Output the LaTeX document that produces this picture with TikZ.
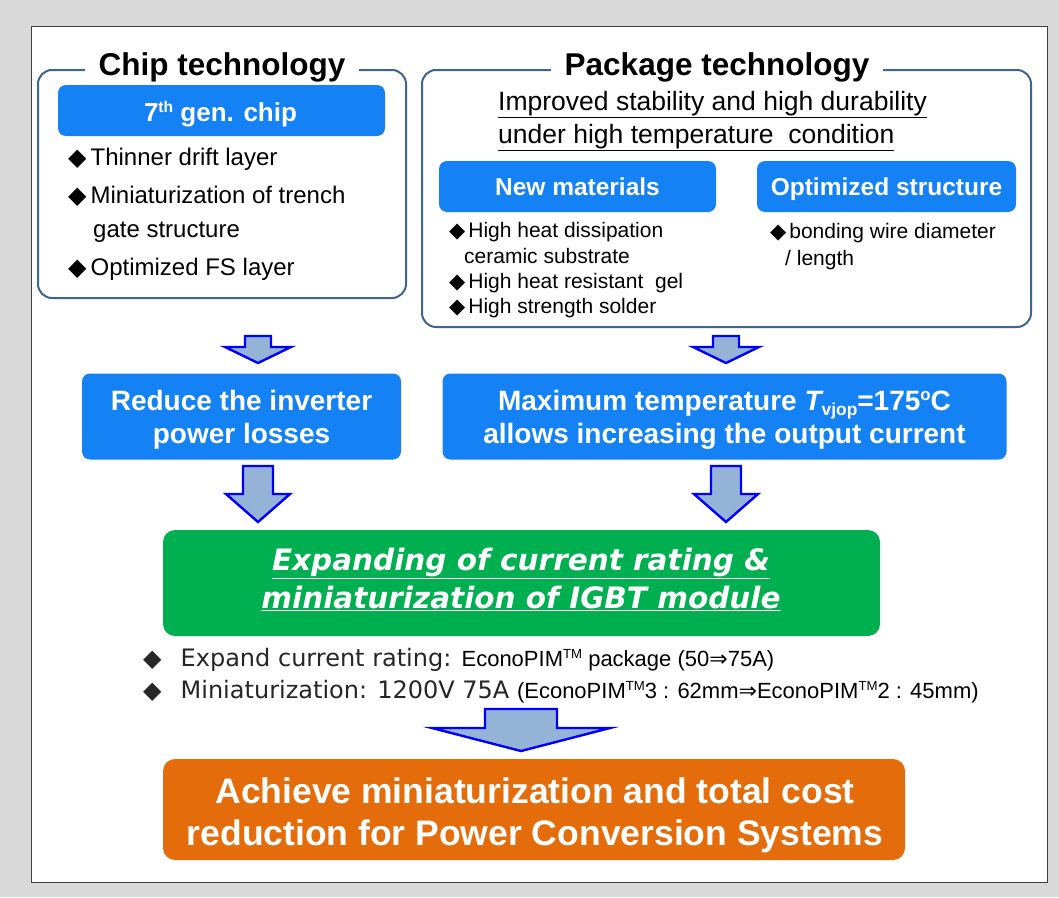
\documentclass[tikz,border=0pt]{standalone}
\usepackage{fontspec}
\setmainfont{Liberation Sans}
\newfontfamily\dejavu{DejaVu Sans}
\definecolor{bggray}{HTML}{D9D9D9}
\definecolor{panelline}{HTML}{3F3F3F}
\definecolor{frameblue}{RGB}{62,100,145}
\definecolor{boxblue}{RGB}{20,130,245}
\definecolor{arrfill}{HTML}{95B3D7}
\definecolor{arrline}{HTML}{0000FF}
\definecolor{mygreen}{HTML}{00B050}
\definecolor{myorange}{HTML}{E46C0A}
\newcommand\mydia{{\dejavu ◆}}
\makeatletter
\newcommand\mysup[1]{\raisebox{0.33em}{\fontsize{\strip@pt\dimexpr 0.6\dimexpr\f@size pt\relax\relax}{1}\selectfont #1}}
\newcommand\mysub[1]{\raisebox{-0.18em}{\fontsize{\strip@pt\dimexpr 0.62\dimexpr\f@size pt\relax\relax}{1}\selectfont #1}}
\makeatother
\newcommand\blkarrow[6]{%
  \draw[barrow] ({#1-#5},#2) -- ({#1+#5},#2) -- ({#1+#5},#3) -- ({#1+#6},#3)
    -- (#1,#4) -- ({#1-#6},#3) -- ({#1-#5},#3) -- cycle;}
\tikzset{
  txt/.style={inner sep=0pt, anchor=base},
  ltxt/.style={inner sep=0pt, anchor=base west},
  framebox/.style={draw=frameblue, line width=2pt, rounded corners=14pt, inner sep=0pt},
  title/.style={txt, fill=white, inner xsep=14pt, inner ysep=3pt, font=\fontsize{31.5}{36}\selectfont\bfseries},
  bluebox/.style={fill=boxblue, rounded corners=8pt, inner sep=0pt},
  barrow/.style={fill=arrfill, draw=arrline, line width=2.4pt, line join=miter},
  whitebold/.style={txt, text=white, font=\bfseries},
}
\begin{document}
\begin{tikzpicture}[x=1pt,y=-1pt]
\useasboundingbox (0,0) rectangle (1059,897);
\fill[bggray] (0,0) rectangle (1059,897);
\node[draw=panelline, line width=1pt, fill=white, inner sep=0pt,
      minimum width=1016pt, minimum height=856pt] (panel) at (539,454) {};

% ---------------- Chip technology ----------------
\node[framebox, minimum width=368pt, minimum height=228pt] (chip) at (222,184) {};
\node[title] (chiptitle) at (222,75) {Chip technology};
\node[bluebox, minimum width=327pt, minimum height=51pt] (gen) at (221.5,110.5) {};
\node[whitebold, font=\fontsize{26}{30}\selectfont\bfseries] (gentxt) at (220.5,121)
  {7\mysup{th} gen. chip};
\begin{scope}[every node/.style={ltxt, font=\fontsize{24}{28}\selectfont}]
\node (cb1) at (68,165) {\mydia\kern4pt Thinner drift layer};
\node (cb2) at (68,203) {\mydia\kern4pt Miniaturization of trench};
\node (cb2b) at (93,237) {gate structure};
\node (cb3) at (68,275) {\mydia\kern4pt Optimized FS layer};
\end{scope}

% ---------------- Package technology ----------------
\node[framebox, minimum width=609pt, minimum height=257pt] (pkg) at (726.5,198.5) {};
\node[title] (pkgtitle) at (717,75) {Package technology};
\begin{scope}[every node/.style={ltxt, font=\fontsize{26.5}{30}\selectfont}]
\node (imp1) at (498,110) {\underline{Improved stability and high durability}};
\node (imp2) at (498,143) {\underline{under high temperature\ \ condition}};
\end{scope}
\node[bluebox, minimum width=277pt, minimum height=51pt] (newmat) at (577.5,186.5) {};
\node[whitebold, font=\fontsize{24.5}{28}\selectfont\bfseries] (newmattxt) at (577.5,195) {New materials};
\node[bluebox, minimum width=259pt, minimum height=51pt] (optst) at (886.5,186.5) {};
\node[whitebold, font=\fontsize{24.5}{28}\selectfont\bfseries] (optsttxt) at (886.5,195) {Optimized structure};
\begin{scope}[every node/.style={ltxt, font=\fontsize{21}{25}\selectfont}]
\node (pb1) at (449,237) {\mydia\kern3pt High heat dissipation};
\node (pb1b) at (464,263) {ceramic substrate};
\node (pb2) at (449,288) {\mydia\kern3pt High heat resistant\ \ gel};
\node (pb3) at (449,313) {\mydia\kern3pt High strength solder};
\node (ob1) at (770,238) {\mydia\kern3pt bonding wire diameter};
\node (ob1b) at (785,265) {/ length};
\end{scope}

% ---------------- small arrows ----------------
\blkarrow{258}{336}{347}{363}{13}{33}
\blkarrow{726}{336}{347}{363}{13}{33}

% ---------------- middle blue boxes ----------------
\node[bluebox, minimum width=319pt, minimum height=86pt] (reduce) at (241.5,416.5) {};
\begin{scope}[every node/.style={whitebold, font=\fontsize{28}{32}\selectfont\bfseries}]
\node (red1) at (241.5,410) {Reduce the inverter};
\node (red2) at (241.5,443) {power losses};
\end{scope}
\node[bluebox, minimum width=564pt, minimum height=86pt] (maxt) at (724.5,416.5) {};
\begin{scope}[every node/.style={whitebold, font=\fontsize{28}{32}\selectfont\bfseries}]
\node (max1) at (724.5,410) {Maximum temperature {\itshape T}\mysub{vjop}=175\mysup{o}C};
\node (max2) at (724.5,443) {allows increasing the output current};
\end{scope}

% ---------------- large arrows ----------------
\blkarrow{258}{466}{494}{522}{15}{32}
\blkarrow{726}{466}{494}{522}{15}{32}

% ---------------- green box ----------------
\node[fill=mygreen, rounded corners=12pt, inner sep=0pt, minimum width=717pt, minimum height=106pt] (green) at (521.5,583) {};
\begin{scope}[every node/.style={txt, text=white, font=\fontsize{29.5}{34}\dejavu\bfseries\itshape}]
\node (gr1) at (521,570) {\underline{Expanding of current rating \&}};
\node (gr2) at (521,608) {\underline{miniaturization of IGBT module}};
\end{scope}

% ---------------- bullets ----------------
\node[ltxt, text=black!85] (bb1) at (143,666)
  {{\fontsize{24}{28}\selectfont\dejavu ◆\hspace{19pt}Expand current rating: }%
   {\fontsize{22}{26}\selectfont\color{black}EconoPIM\mysup{TM} package (50{\dejavu ⇒}75A)}};
\node[ltxt, text=black!85] (bb2) at (143,698)
  {{\fontsize{24}{28}\selectfont\dejavu ◆\hspace{19pt}Miniaturization: 1200V 75A }%
   {\fontsize{22}{26}\selectfont\color{black}(EconoPIM\mysup{TM}3 : 62mm{\dejavu ⇒}EconoPIM\mysup{TM}2 : 45mm)}};

% ---------------- bottom arrow ----------------
\blkarrow{521}{709}{728}{751}{36}{89}

% ---------------- orange box ----------------
\node[fill=myorange, rounded corners=12pt, inner sep=0pt, minimum width=742pt, minimum height=101pt] (orange) at (534,809.5) {};
\begin{scope}[every node/.style={whitebold, font=\fontsize{35.5}{40}\selectfont\bfseries}]
\node (or1) at (535,803) {Achieve miniaturization and total cost};
\node (or2) at (535,845) {reduction for Power Conversion Systems};
\end{scope}
\end{tikzpicture}
\end{document}
